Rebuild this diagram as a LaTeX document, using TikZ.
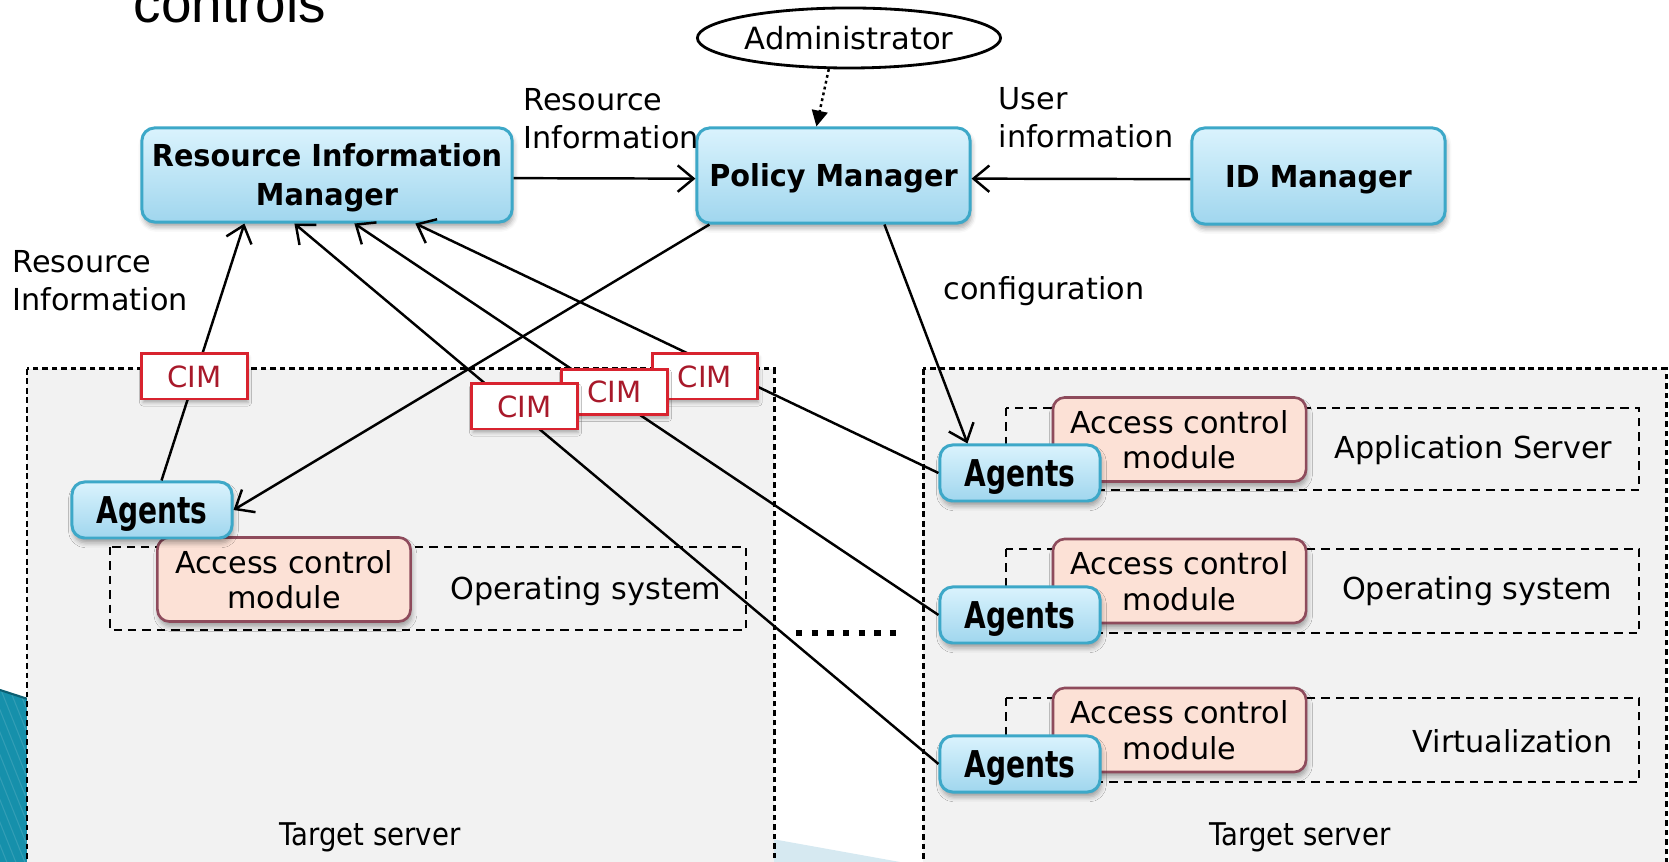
\documentclass[tikz,border=0pt]{standalone}
\usepackage{fontspec}
\setmainfont{DejaVu Sans}
\newfontfamily\titlefont{Liberation Sans}
\newfontfamily\boxfont{DejaVu Sans}[FakeStretch=0.95]
\newfontfamily\agentfont{DejaVu Sans}[FakeStretch=0.76]
\newfontfamily\narrowfont{DejaVu Sans}[FakeStretch=0.88]
\usetikzlibrary{arrows.meta,shapes.geometric,shadows.blur,calc}

\definecolor{bluetop}{HTML}{DAF3FD}
\definecolor{bluebot}{HTML}{A0D6EE}
\definecolor{blueedge}{HTML}{3DA8C8}
\definecolor{acmfill}{HTML}{FCE1D6}
\definecolor{acmedge}{HTML}{8E4B5C}
\definecolor{cimedge}{HTML}{D8232F}
\definecolor{cimtext}{HTML}{A8192A}
\definecolor{serverfill}{HTML}{F2F2F2}
\definecolor{tealc}{HTML}{1690AB}
\definecolor{tealdark}{HTML}{0C5F72}
\definecolor{wedge}{HTML}{D6E9F1}

\tikzset{
  softshadow/.style={blur shadow={shadow xshift=0.4pt, shadow yshift=-1.4pt,
      shadow blur radius=1.4pt, shadow opacity=35}},
  bluebox/.style={draw=blueedge, line width=0.85pt, rounded corners=3.6pt,
      top color=bluetop, bottom color=bluebot, softshadow,
      inner sep=0pt, align=center, text depth=0pt,
      font={\boxfont\bfseries\fontsize{8.6pt}{11.1pt}\selectfont}},
  agentbox/.style={bluebox, minimum width=1.60cm, minimum height=0.56cm,
      font={\agentfont\bfseries\fontsize{10.5pt}{12pt}\selectfont}},
  acmbox/.style={draw=acmedge, line width=0.75pt, rounded corners=3.4pt,
      fill=acmfill, softshadow, inner sep=0pt, align=center,
      minimum width=2.53cm, minimum height=0.84cm,
      font={\fontsize{8.6pt}{10.1pt}\selectfont}},
  cimbox/.style={draw=cimedge, line width=0.85pt, fill=white, text=cimtext,
      blur shadow={shadow xshift=0.3pt, shadow yshift=-1.0pt,
      shadow blur radius=1pt, shadow opacity=30},
      minimum width=1.05cm, minimum height=0.45cm, inner sep=0pt,
      font={\fontsize{8.3pt}{10pt}\selectfont}},
  lbl/.style={inner sep=0pt, align=left, font={\fontsize{8.6pt}{10.8pt}\selectfont}},
  servername/.style={inner sep=0pt, font={\narrowfont\fontsize{8.9pt}{10pt}\selectfont}},
  serverbox/.style={draw, fill=serverfill, line width=0.85pt,
      dash pattern=on 1.6pt off 1.1pt},
  layerbox/.style={draw, line width=0.7pt, dash pattern=on 2.4pt off 1.7pt},
  conn/.style={line width=0.7pt, -{Straight Barb[length=4.5pt,width=7.5pt]}},
}

\begin{document}
\begin{tikzpicture}[x=0.01cm, y=-0.01cm]
\useasboundingbox (0,0) rectangle (1669,862);
\clip (0,0) rectangle (1669,862);

% slide decorations behind the diagram
\fill[wedge] (700,826) -- (1000,880) -- (700,880) -- cycle;
\begin{scope}
  \clip (0,690) -- (40,703) -- (40,900) -- (0,900) -- cycle;
  \fill[tealc] (0,680) rectangle (40,900);
  \foreach \i in {0,9,...,260}
    \draw[white, opacity=0.12, line width=0.3pt] (-120+\i,680) -- (-40+\i,880);
\end{scope}
\draw[tealdark, line width=0.6pt] (0,690) -- (40,703);

% heading fragment
\node[anchor=base west, inner sep=0pt,
      font={\titlefont\fontsize{15.6pt}{18pt}\selectfont}] (head) at (133,23) {controls};

% target servers
\draw[serverbox] (27,369) rectangle (774,900);
\draw[serverbox] (923,369) rectangle (1666,900);
\draw[line width=1.8pt, dash pattern=on 1.8pt off 2.65pt] (796,633) -- (905,633);

% layers inside the servers
\draw[layerbox] (110,547) rectangle (746,630);
\draw[layerbox] (1006,408) rectangle (1639,490);
\draw[layerbox] (1006,549) rectangle (1639,633);
\draw[layerbox] (1006,698) rectangle (1639,782);

\node[lbl] (osL) at (586,591) {Operating system};
\node[lbl, anchor=east] (appR) at (1613,450) {Application Server};
\node[lbl, anchor=east] (osR) at (1613,591) {Operating system};
\node[lbl, anchor=east] (virtR) at (1613,741) {Virtualization};
\node[servername] (tsL) at (370,837) {Target server};
\node[servername] (tsR) at (1300,837) {Target server};

% access control modules
\node[acmbox] (acmL) at (284,579.5) {Access control\\module};
\node[acmbox] (acmR1) at (1179.5,439.5) {Access control\\module};
\node[acmbox] (acmR2) at (1179.5,581) {Access control\\module};
\node[acmbox] (acmR3) at (1179.5,730) {Access control\\module};

% agents
\node[agentbox] (agL) at (152,510) {Agents};
\node[agentbox] (agR1) at (1020,473) {Agents};
\node[agentbox] (agR2) at (1020,615) {Agents};
\node[agentbox] (agR3) at (1020,764) {Agents};

% managers
\node[bluebox, minimum width=3.70cm, minimum height=0.94cm] (rim) at (327,175) {Resource Information\\Manager};
\node[bluebox, minimum width=2.73cm, minimum height=0.95cm] (pm) at (833.5,175.5) {Policy Manager};
\node[bluebox, minimum width=2.53cm, minimum height=0.96cm] (idm) at (1318.5,176) {ID Manager};
\node[draw, ellipse, line width=0.8pt, inner sep=0pt, minimum width=3.03cm, minimum height=0.60cm,
      font={\fontsize{8.7pt}{10pt}\selectfont}] (admin) at (849,38) {Administrator};

% connector labels
\node[lbl, anchor=west] (lblRes) at (523,119) {Resource\\Information};
\node[lbl, anchor=west] (lblUser) at (998,118) {User\\information};
\node[lbl, anchor=west] (lblResL) at (12,281) {Resource\\Information};
\node[lbl, anchor=west] (lblConf) at (943,291) {configuration};

% connectors
\draw[conn] ([yshift=-0.9pt]rim.east) -- ([yshift=-0.9pt]pm.west);
\draw[conn] ([yshift=-0.9pt]idm.west) -- ([yshift=-0.9pt]pm.east);
\draw[line width=0.7pt, dash pattern=on 0.8pt off 0.9pt,
      -{Triangle[length=4.5pt,width=4.5pt]}] (admin.237) -- ($(pm.north west)+(121,0)$);
\draw[conn] (agL) -- ($(rim.south west)+(104,0)$);
\draw[conn] (agR3.west) -- ($(rim.south west)+(154,0)$);
\draw[conn] (agR2.west) -- ($(rim.south west)+(214,0)$);
\draw[conn] (agR1.west) -- ($(rim.south west)+(275,0)$);
\draw[conn] ($(pm.south west)+(14,0)$) -- (agL.east);
\draw[conn] ($(pm.south west)+(189,0)$) -- ($(agR1.north west)+(29,0)$);

% CIM interfaces on the reporting paths
\node[cimbox] (cim1) at (194.5,376.5) {CIM};
\node[cimbox] (cimc) at (705,376.5) {CIM};
\node[cimbox] (cimb) at (614.5,392) {CIM};
\node[cimbox] (cima) at (524.5,406.5) {CIM};
\end{tikzpicture}
\end{document}
